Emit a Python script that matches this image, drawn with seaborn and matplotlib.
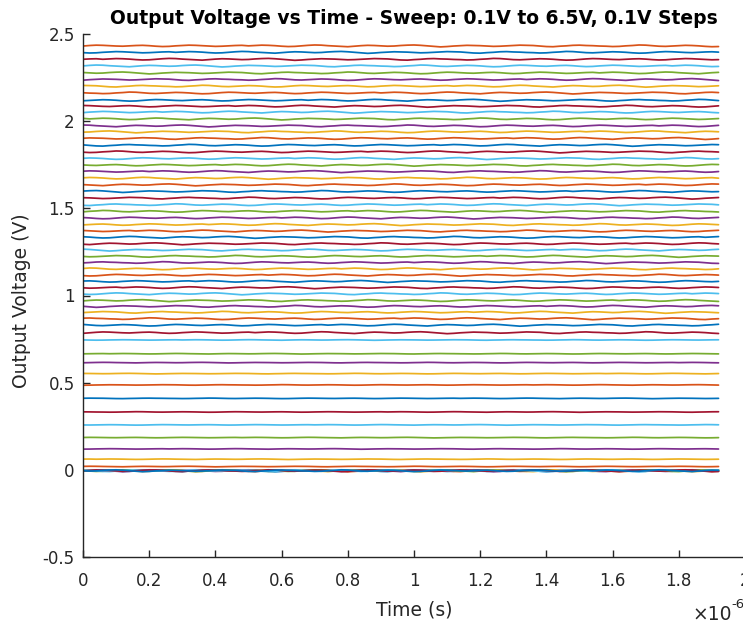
import numpy as np
import pandas as pd
import matplotlib
matplotlib.use("Agg")
import matplotlib.pyplot as plt
import seaborn as sns

# Sweep inputs (V) and the settled output level of each sweep step (V)
input_v = [round(0.1 * k, 1) for k in range(1, 66)]
output_levels = [
    -0.005, -0.005, -0.005, -0.005, -0.005, -0.005, -0.005, -0.005,
    0.019, 0.061, 0.120, 0.185, 0.258, 0.332, 0.410, 0.487, 0.552,
    0.615, 0.666, 0.745, 0.787, 0.830, 0.867, 0.904, 0.938, 0.971,
    1.010, 1.045, 1.081, 1.117, 1.153, 1.189, 1.225, 1.261, 1.297,
    1.334, 1.370, 1.407, 1.445, 1.483, 1.521, 1.559, 1.597, 1.635,
    1.673, 1.711, 1.748, 1.786, 1.824, 1.862, 1.901, 1.939, 1.973,
    2.013, 2.052, 2.086, 2.120, 2.162, 2.201, 2.239, 2.277, 2.317,
    2.355, 2.395, 2.432,
]
# Ripple riding on each output (mV), sampled across the capture window
ripple_mv = [0, 2, 4, 3, 1, -2, -4, -3, 0, 3, 5, 4, 1, -1, -3, -5, -2, 1, 3, 2,
             0, -2, -1, 2, 4, 5, 3, 0, -3, -6, -4, -1, 1, 3, 2, 1, -1, -3, -2, 0,
             2, 4, 3, 2, -1, -4, -5, -2, 0, 3, 4, 2, 1, -1, -2, -4, -3, 0, 2, 5,
             4, 1, -2, -3, -1, 1, 3, 2, 0, -3, -5, -4, -1, 2, 4, 3, 1, -1, -2, 0,
             2, 3, 1, -2, -4, -3, 0, 2, 4, 3, 1, -1, -3, -2, 0, 2, 3]
t_end = 1.92e-6
x_ticks = [0, 0.2, 0.4, 0.6, 0.8, 1, 1.2, 1.4, 1.6, 1.8, 2]
y_ticks = [-0.5, 0, 0.5, 1, 1.5, 2, 2.5]

matlab_colors = ["#0072BD", "#D95319", "#EDB120", "#7E2F8E",
                 "#77AC30", "#4DBEEE", "#A2142F"]

t = np.linspace(0, t_end, len(ripple_mv))
ripple = np.array(ripple_mv) / 1000.0
frames = []
for i, (vin, lvl) in enumerate(zip(input_v, output_levels)):
    amp = 1.0 if (lvl > 0.77 or lvl < 0.01) else 0.3
    r = np.roll(ripple, (i * 11) % len(ripple)) * amp
    frames.append(pd.DataFrame({"t": t, "v": lvl + r, "vin": f"{vin:.1f}V"}))
df = pd.concat(frames, ignore_index=True)
hue_order = [f"{v:.1f}V" for v in input_v]
palette = {h: matlab_colors[k % 7] for k, h in enumerate(hue_order)}

sns.set_style("ticks")
plt.rcParams["font.family"] = ["DejaVu Sans"]
plt.rcParams["axes.unicode_minus"] = False

fig = plt.figure(figsize=(7.43, 6.25), dpi=100)
ax = fig.add_axes([83 / 743, 68 / 625, 662 / 743, 523 / 625])

sns.lineplot(data=df, x="t", y="v", hue="vin", hue_order=hue_order,
             palette=palette, legend=False, linewidth=1.25,
             estimator=None, ax=ax)

ax.set_xlim(0, 2e-6)
ax.set_ylim(-0.5, 2.5)
ax.set_xticks([x * 1e-6 for x in x_ticks])
ax.set_xticklabels([f"{x:g}" for x in x_ticks])
ax.set_yticks(y_ticks)
ax.set_yticklabels([f"{y:g}" for y in y_ticks])
ax.tick_params(direction="in", length=5, width=1, colors="#262626",
               labelsize=12)
ax.tick_params(axis="x", pad=11)
ax.tick_params(axis="y", pad=6)
sns.despine(ax=ax, top=True, right=True)
for s in ("left", "bottom"):
    ax.spines[s].set_color("#262626")
    ax.spines[s].set_linewidth(1)

ax.set_xlabel("Time (s)", fontsize=13.5, color="#262626", labelpad=7)
ax.set_ylabel("Output Voltage (V)", fontsize=13.5, color="#262626")
ax.yaxis.set_label_coords(-0.078, 0.49)
ax.set_title("Output Voltage vs Time - Sweep: 0.1V to 6.5V, 0.1V Steps",
             fontsize=13.5, fontweight="bold", color="black", pad=7)
fig.text(692 / 743, 1 - 615 / 625, "\u00d710", fontsize=13.5,
         color="#262626", ha="left", va="center")
fig.text(731 / 743, 1 - 604 / 625, "-6", fontsize=9.5,
         color="#262626", ha="left", va="center")

fig.savefig("out.png", dpi=100)
